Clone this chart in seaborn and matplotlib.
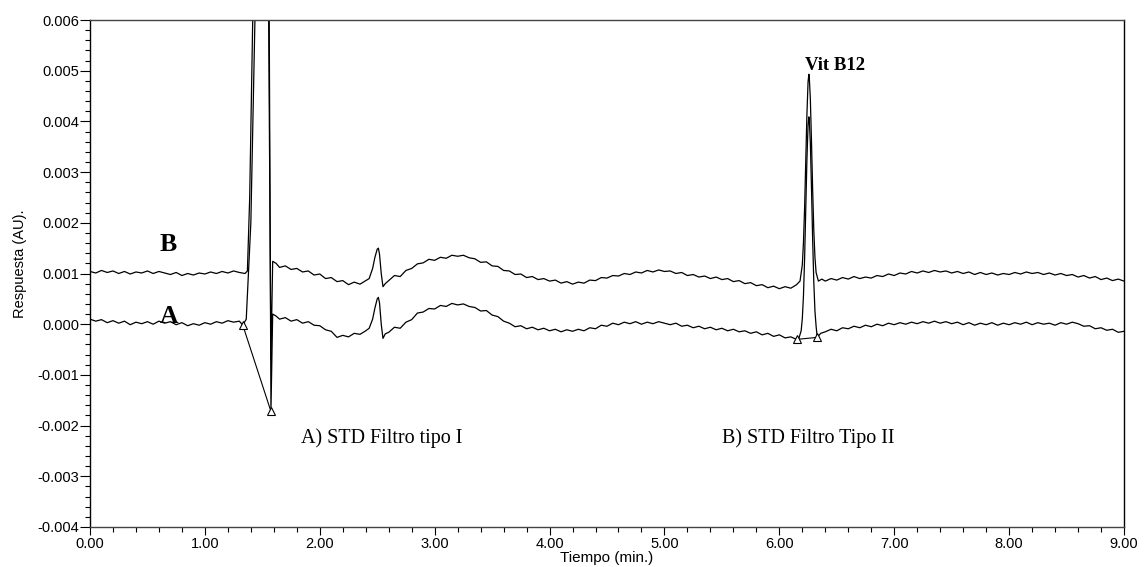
import numpy as np
import pandas as pd
import matplotlib
matplotlib.use("Agg")
import matplotlib.pyplot as plt
from matplotlib.ticker import MultipleLocator, FormatStrFormatter
import seaborn as sns

# Detector response in units of 1e-4 AU, sampled every 0.05 min on quiet stretches
# and more densely across the peaks.
SCALE = 1e-4

# ---- Trace A: STD Filtro tipo I ----
a_seg1 = [1.0, 0.6, 0.9, 0.3, 0.7, 0.2, 0.6, -0.1, 0.4, 0.1, 0.5, 0.0, 0.6, 0.2,
          0.5, -0.1, 0.3, -0.3, 0.1, -0.2, 0.3, 0.0, 0.5, 0.2, 0.7, 0.4, 0.6]      # 0.00-1.30
a_inj_t = [1.33, 1.36, 1.40, 1.44, 1.48, 1.53, 1.56, 1.575, 1.59, 1.62]
a_inj = [-0.2, 1.0, 20.0, 65.0, 110.0, 100.0, 60.0, -17.2, 2.0, 1.6]
a_seg2 = [1.0, 1.3, 0.6, 0.9, 0.2, 0.5, -0.2, -0.3, -1.1, -1.4, -2.6, -2.2, -2.5,
          -1.8, -2.0, -1.3]                                                        # 1.65-2.40
a_sys_t = [2.43, 2.46, 2.48, 2.50, 2.51, 2.52, 2.535, 2.55, 2.57]
a_sys = [-0.8, 1.0, 3.2, 5.0, 5.3, 4.2, 0.0, -2.8, -1.9]
a_seg3 = [-1.6, -0.6, -0.8, 0.4, 0.9, 2.2, 2.4, 3.1, 3.0, 3.7, 3.5, 4.1, 3.8, 4.0,
          3.5, 3.3, 2.6, 2.7, 1.8, 1.5, 0.6, 0.2, -0.5, -0.3, -0.9, -0.6, -1.1, -0.8,
          -1.3, -1.0, -1.5, -1.1, -1.4, -1.0, -1.3, -0.7, -0.9, -0.2, -0.4, 0.2, -0.1,
          0.4, 0.1, 0.5, 0.0, 0.4, 0.1, 0.5, 0.2, -0.1, 0.2, -0.4, -0.2, -0.7, -0.4,
          -0.9, -0.6, -1.1, -0.8, -1.3, -1.0, -1.5, -1.3, -1.8, -1.5, -2.1, -1.8, -2.4,
          -2.1, -2.7, -2.5]                                                         # 2.60-6.10
a_b12_t = [6.15, 6.17, 6.19, 6.20, 6.21, 6.22, 6.23, 6.24, 6.25, 6.257, 6.26, 6.27,
           6.28, 6.29, 6.30, 6.31, 6.32, 6.33, 6.36]
a_b12 = [-3.0, -2.8, -1.3, 1.1, 5.6, 13.0, 22.6, 32.4, 39.3, 40.9, 40.6, 35.7,
         26.7, 16.7, 8.3, 2.6, -0.4, -2.6, -1.8]
a_seg4 = [-1.5, -1.0, -1.3, -0.7, -0.9, -0.4, -0.7, -0.2, -0.5, 0.0, -0.3, 0.2, -0.1,
          0.3, 0.0, 0.4, 0.1, 0.5, 0.2, 0.6, 0.2, 0.5, 0.1, 0.4, -0.1, 0.3, -0.2, 0.2,
          -0.1, 0.3, -0.2, 0.2, -0.1, 0.3, 0.0, 0.4, -0.1, 0.3, 0.0, 0.2, -0.2, 0.3,
          0.0, 0.4, 0.1, -0.4, -0.3, -0.9, -0.7, -1.2, -1.0, -1.6, -1.4]          # 6.40-9.00

# ---- Trace B: STD Filtro Tipo II ----
b_seg1 = [10.4, 10.1, 10.6, 10.2, 10.5, 10.0, 10.4, 9.9, 10.3, 10.1, 10.5, 10.0, 10.4,
          10.1, 9.8, 10.2, 9.6, 10.0, 9.7, 10.1, 9.9, 10.3, 10.0, 10.4, 10.1, 10.5,
          10.2, 10.0]                                                              # 0.00-1.35
b_inj_t = [1.37, 1.39, 1.42, 1.47, 1.52, 1.555, 1.575, 1.59, 1.62]
b_inj = [10.5, 25.0, 65.0, 120.0, 110.0, 60.0, -7.0, 12.4, 12.0]
b_seg2 = [11.2, 11.5, 10.8, 11.0, 10.3, 10.5, 9.7, 9.9, 9.0, 9.2, 8.4, 8.6, 7.8, 8.3,
          7.9, 8.6]                                                                # 1.65-2.40
b_sys_t = [2.43, 2.46, 2.48, 2.50, 2.51, 2.52, 2.535, 2.55, 2.57]
b_sys = [9.0, 11.0, 13.2, 14.8, 15.0, 13.8, 10.0, 7.4, 8.0]
b_seg3 = [8.6, 9.6, 9.4, 10.6, 11.0, 11.9, 12.1, 12.8, 12.6, 13.2, 13.0, 13.6, 13.4,
          13.6, 13.1, 12.9, 12.2, 12.3, 11.5, 11.4, 10.6, 10.5, 9.8, 9.9, 9.2, 9.4,
          8.8, 9.0, 8.5, 8.7, 8.1, 8.4, 7.9, 8.3, 8.1, 8.7, 8.6, 9.2, 9.1, 9.6, 9.5,
          10.0, 9.8, 10.3, 10.1, 10.6, 10.3, 10.7, 10.4, 10.5, 10.0, 10.2, 9.6, 9.8,
          9.3, 9.5, 9.0, 9.3, 8.8, 9.0, 8.4, 8.6, 8.0, 8.2, 7.6, 7.8, 7.2, 7.5, 7.0,
          7.4, 7.1]                                                                # 2.60-6.10
b_b12_t = [6.15, 6.18, 6.20, 6.21, 6.22, 6.23, 6.24, 6.25, 6.257, 6.26, 6.27, 6.28,
           6.29, 6.30, 6.31, 6.32, 6.34, 6.37]
b_b12 = [7.8, 8.5, 11.7, 16.1, 23.0, 32.1, 41.3, 47.8, 49.3, 49.0, 44.4, 35.9, 26.5,
         18.5, 13.2, 10.2, 8.5, 8.9]
b_seg4 = [8.5, 9.0, 8.7, 9.2, 8.9, 9.4, 9.0, 9.3, 9.1, 9.6, 9.4, 9.9, 9.6, 10.1, 9.9,
          10.4, 10.1, 10.5, 10.2, 10.6, 10.3, 10.5, 10.1, 10.4, 10.0, 10.3, 9.8, 10.2,
          9.8, 10.1, 9.7, 10.0, 9.8, 10.2, 9.9, 10.3, 10.0, 10.2, 9.8, 10.1, 9.7, 10.0,
          9.6, 9.8, 9.3, 9.6, 9.1, 9.4, 8.8, 9.1, 8.6, 8.9, 8.5]                  # 6.40-9.00

# Integration baseline points (start/end of integrated peaks on trace A)
a_marks_inj = [1.33, 1.575]
a_marks_b12 = [6.15, 6.33]

STEP = 0.05


def grid(start, values):
    return list(np.round(start + STEP * np.arange(len(values)), 3))


def assemble(parts):
    t, v = [], []
    for tt, vv in parts:
        t += list(tt)
        v += list(vv)
    order = np.argsort(t, kind="stable")
    return np.asarray(t)[order], np.asarray(v)[order] * SCALE


ta, ra = assemble([(grid(0.0, a_seg1), a_seg1), (a_inj_t, a_inj),
                   (grid(1.65, a_seg2), a_seg2), (a_sys_t, a_sys),
                   (grid(2.60, a_seg3), a_seg3), (a_b12_t, a_b12),
                   (grid(6.40, a_seg4), a_seg4)])
tb, rb = assemble([(grid(0.0, b_seg1), b_seg1), (b_inj_t, b_inj),
                   (grid(1.65, b_seg2), b_seg2), (b_sys_t, b_sys),
                   (grid(2.60, b_seg3), b_seg3), (b_b12_t, b_b12),
                   (grid(6.40, b_seg4), b_seg4)])

df = pd.concat([
    pd.DataFrame({"Tiempo": ta, "Respuesta": ra, "traza": "A"}),
    pd.DataFrame({"Tiempo": tb, "Respuesta": rb, "traza": "B"}),
], ignore_index=True)

sns.set_style("ticks")
plt.rcParams["font.family"] = ["Liberation Sans", "DejaVu Sans"]
plt.rcParams["text.color"] = "black"
plt.rcParams["axes.labelcolor"] = "black"
plt.rcParams["xtick.color"] = "black"
plt.rcParams["ytick.color"] = "black"

fig = plt.figure(figsize=(11.45, 5.67), dpi=100)
ax = fig.add_axes([90 / 1145, 1 - 527 / 567, (1124 - 90) / 1145, (527 - 20) / 567])

sns.lineplot(data=df, x="Tiempo", y="Respuesta", units="traza", estimator=None,
             sort=False, color="black", lw=0.9, ax=ax, legend=False)

# Integration baselines with open triangle markers
for marks in (a_marks_inj, a_marks_b12):
    mv = np.interp(marks, ta, ra)
    ax.plot(marks, mv, color="black", lw=0.8, marker="^", ms=6,
            mfc="white", mec="black", mew=0.8, zorder=3)

ax.set_xlim(0, 9)
ax.set_ylim(-0.004, 0.006)
ax.xaxis.set_major_locator(MultipleLocator(1.0))
ax.xaxis.set_minor_locator(MultipleLocator(0.2))
ax.yaxis.set_major_locator(MultipleLocator(0.001))
ax.yaxis.set_minor_locator(MultipleLocator(0.0002))
ax.xaxis.set_major_formatter(FormatStrFormatter("%.2f"))
ax.yaxis.set_major_formatter(FormatStrFormatter("%.3f"))
ax.tick_params(axis="both", which="major", direction="out", length=6, width=0.8,
               labelsize=10.5, colors="black", labelcolor="black", pad=1)
ax.tick_params(axis="both", which="minor", direction="out", length=3.5, width=0.8,
               colors="black")
ax.tick_params(axis="y", which="major", length=7)

for side in ("left", "right"):
    ax.spines[side].set_color("black")
    ax.spines[side].set_linewidth(1.0)
for side in ("top", "bottom"):
    ax.spines[side].set_color("#444444")
    ax.spines[side].set_linewidth(1.0)

ax.set_xlabel("Tiempo (min.)", fontsize=11, labelpad=0, color="black")
ax.set_ylabel("Respuesta (AU).", fontsize=10.5, color="black")
ax.yaxis.set_label_coords(-0.061, 0.519)

serif = ["Liberation Serif", "DejaVu Serif"]
ax.text(0.68, 0.00144, "B", family=serif, fontweight="bold", fontsize=18.5,
        ha="center", va="baseline", color="black")
ax.text(0.69, 0.00002, "A", family=serif, fontweight="bold", fontsize=18.5,
        ha="center", va="baseline", color="black")
ax.text(6.22, 0.00501, "Vit B12", family=serif, fontweight="bold", fontsize=13.5,
        ha="left", va="baseline", color="black")
ax.text(1.84, -0.00235, "A) STD Filtro tipo I", family=serif, fontsize=14.5,
        ha="left", va="baseline", color="black")
ax.text(5.50, -0.00235, "B) STD Filtro Tipo II", family=serif, fontsize=14.5,
        ha="left", va="baseline", color="black")

fig.savefig("out.png", dpi=100)
